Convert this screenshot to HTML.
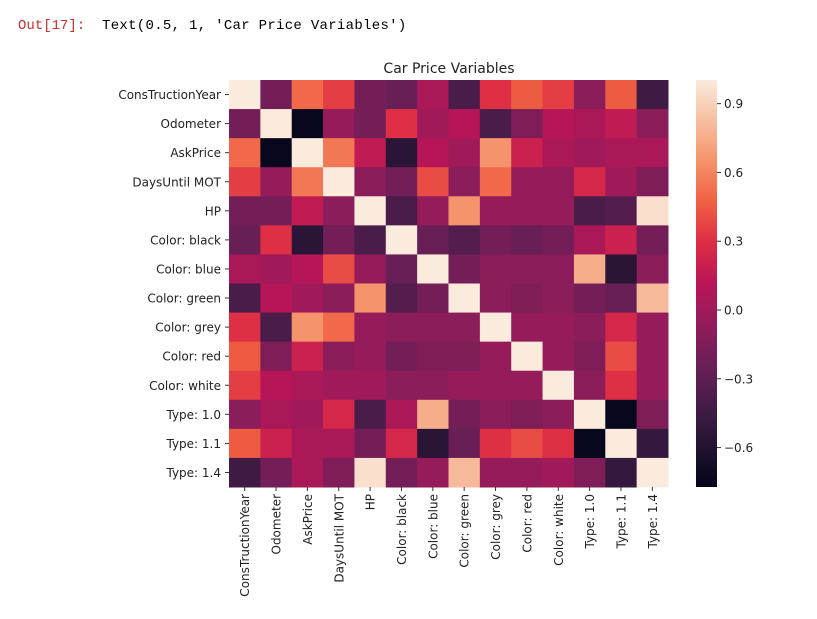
<!DOCTYPE html>
<html><head><meta charset="utf-8"><style>
body{margin:0;background:#fff;width:817px;height:614px;overflow:hidden}
</style></head><body>
<svg id="s" width="817" height="614" xmlns="http://www.w3.org/2000/svg" font-family="DejaVu Sans, Liberation Sans, sans-serif">
<text x="18" y="29" font-family="Liberation Mono, monospace" font-size="14" fill="#c9302c">Out[17]:</text>
<text x="102" y="29" font-family="Liberation Mono, monospace" font-size="14" letter-spacing="0.3" fill="#000">Text(0.5, 1, 'Car Price Variables')</text>
<text x="449" y="73" font-size="14" text-anchor="middle" fill="#222">Car Price Variables</text>
<defs><linearGradient id="cb" x1="0" y1="1" x2="0" y2="0">
<stop offset="0" stop-color="#03051A"/><stop offset="0.1" stop-color="#221331"/><stop offset="0.2" stop-color="#451C47"/><stop offset="0.3" stop-color="#6A1F56"/><stop offset="0.4" stop-color="#921C5B"/><stop offset="0.5" stop-color="#B91657"/><stop offset="0.6" stop-color="#DD2C45"/><stop offset="0.7" stop-color="#F06043"/><stop offset="0.8" stop-color="#F5936A"/><stop offset="0.9" stop-color="#F6BFA0"/><stop offset="1" stop-color="#FAEBDD"/>
</linearGradient></defs>
<rect x="696" y="80" width="21" height="407" fill="url(#cb)"/>
<g id="g"></g>
</svg>
<script>
var stops=[[3,5,26],[34,19,49],[69,28,71],[106,31,86],[146,28,91],[185,22,87],[221,44,69],[240,96,67],[245,147,106],[246,191,160],[250,235,221]];
function col(v){var t=(v+0.775)/1.775;t=Math.max(0,Math.min(1,t))*10;var i=Math.min(9,Math.floor(t)),f=t-i,a=stops[i],b=stops[i+1];
return 'rgb('+[0,1,2].map(function(k){return Math.round(a[k]+(b[k]-a[k])*f)}).join(',')+')';}
var M=[
[1,-0.2,0.5,0.35,-0.2,-0.25,0.05,-0.4,0.3,0.45,0.35,-0.1,0.45,-0.45],
[-0.2,1,-0.75,-0.05,-0.2,0.3,0.0,0.1,-0.4,-0.15,0.1,0.05,0.15,-0.1],
[0.5,-0.75,1,0.55,0.15,-0.55,0.1,0.0,0.65,0.2,0.05,0.0,0.05,0.05],
[0.35,-0.05,0.55,1,-0.1,-0.2,0.4,-0.1,0.5,-0.05,-0.05,0.25,0.0,-0.15],
[-0.2,-0.2,0.15,-0.1,1,-0.4,-0.05,0.65,-0.05,-0.05,-0.05,-0.4,-0.35,0.95],
[-0.25,0.3,-0.55,-0.2,-0.4,1,-0.25,-0.35,-0.2,-0.25,-0.2,0.05,0.2,-0.2],
[0.05,0.0,0.1,0.4,-0.05,-0.25,1,-0.2,-0.1,-0.1,-0.1,0.75,-0.55,-0.1],
[-0.4,0.1,0.0,-0.1,0.65,-0.35,-0.2,1,-0.1,-0.15,-0.1,-0.2,-0.25,0.8],
[0.3,-0.4,0.65,0.5,-0.05,-0.1,-0.1,-0.1,1,-0.05,-0.05,-0.1,0.25,-0.05],
[0.45,-0.15,0.2,-0.1,-0.05,-0.2,-0.15,-0.15,-0.05,1,-0.05,-0.15,0.4,-0.05],
[0.35,0.1,0.05,0.0,0.0,-0.1,-0.1,-0.05,-0.05,-0.05,1,-0.1,0.3,-0.05],
[-0.1,0.05,0.0,0.25,-0.4,0.05,0.75,-0.2,-0.1,-0.15,-0.1,1,-0.75,-0.15],
[0.45,0.2,0.05,0.05,-0.2,0.25,-0.55,-0.25,0.3,0.4,0.3,-0.75,1,-0.5],
[-0.45,-0.2,0.05,-0.15,0.95,-0.2,-0.05,0.8,-0.05,-0.05,0.0,-0.15,-0.5,1]];
var L=["ConsTructionYear","Odometer","AskPrice","DaysUntil MOT","HP","Color: black","Color: blue","Color: green","Color: grey","Color: red","Color: white","Type: 1.0","Type: 1.1","Type: 1.4"];
var x0=229,y0=80,cw=(668-229)/14,ch=(487-80)/14,h='';
for(var r=0;r<14;r++)for(var c=0;c<14;c++)h+='<rect x="'+(x0+c*cw)+'" y="'+(y0+r*ch)+'" width="'+(cw+0.5)+'" height="'+(ch+0.5)+'" fill="'+col(M[r][c])+'"/>';
for(var i=0;i<14;i++){var y=y0+(i+0.5)*ch,x=x0+(i+0.5)*cw;
h+='<line x1="225" x2="229" y1="'+y+'" y2="'+y+'" stroke="#333"/>';
h+='<text x="221" y="'+(y+4.5)+'" font-size="12" text-anchor="end" fill="#222">'+L[i]+'</text>';
h+='<line y1="487" y2="491" x1="'+x+'" x2="'+x+'" stroke="#333"/>';
h+='<text transform="translate('+(x+4.5)+',494) rotate(-90)" font-size="12" text-anchor="end" fill="#222">'+L[i]+'</text>';}
var cl=[["0.9",0.9],["0.6",0.6],["0.3",0.3],["0.0",0],["\u22120.3",-0.3],["\u22120.6",-0.6]];
cl.forEach(function(p){var y=310-p[1]*229.3;h+='<line x1="717" x2="721" y1="'+y+'" y2="'+y+'" stroke="#333"/><text x="724" y="'+(y+4.5)+'" font-size="12" fill="#222">'+p[0]+'</text>';});
document.getElementById('g').innerHTML=h;
</script>
</body></html>
